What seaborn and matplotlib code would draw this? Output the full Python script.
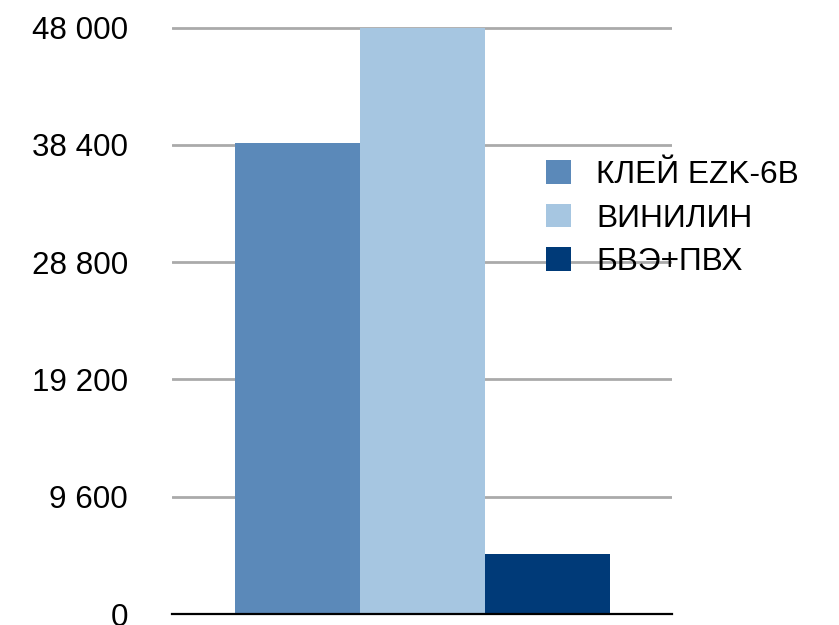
import matplotlib
matplotlib.use("Agg")
import matplotlib.pyplot as plt
import seaborn as sns
import pandas as pd

# Series names, their values and colours
series = ["КЛЕЙ EZK-6B", "ВИНИЛИН", "БВЭ+ПВХ"]
values = [38600, 48000, 4900]
colors = ["#5b89b9", "#a6c6e1", "#003a78"]

# Y-axis ticks and their labels
y_ticks = [0, 9600, 19200, 28800, 38400, 48000]
y_labels = ["0", "9 600", "19 200", "28 800", "38 400", "48 000"]

sns.set_theme(style="white")
plt.rcParams["font.family"] = ["Liberation Sans", "DejaVu Sans"]
plt.rcParams["text.color"] = "black"

W, H = 839, 625
fig = plt.figure(figsize=(W / 100, H / 100), dpi=100)

y0_px, ytop_px = 614, 27.7
px_per_unit = (y0_px - ytop_px) / 48000
y_max = 48500
ax_h = y_max * px_per_unit
ax = fig.add_axes([172 / W, 1 - y0_px / H, 500 / W, ax_h / H])

df = pd.DataFrame({"series": series, "value": values})
sns.barplot(data=df, x="series", y="value", hue="series", palette=colors,
            width=1.0, saturation=1, ax=ax, legend=True, errorbar=None,
            linewidth=0, edgecolor="none")

ax.set_xlim(-1, 3)
ax.set_ylim(0, y_max)
ax.set_xticks([])
ax.set_xlabel("")
ax.set_ylabel("")
ax.set_yticks(y_ticks)
ax.set_yticklabels(y_labels)
ax.tick_params(axis="y", length=0, pad=31.7, labelsize=22.6, labelcolor="black")

ax.yaxis.grid(True, color="#aaaaaa", linewidth=2)
ax.set_axisbelow(True)
for side in ["left", "right", "top"]:
    ax.spines[side].set_visible(False)
ax.spines["bottom"].set_color("black")
ax.spines["bottom"].set_linewidth(1.6)

sns.move_legend(ax, loc="center left", bbox_to_anchor=(546 / W, 1 - 218.5 / H),
                bbox_transform=fig.transFigure, frameon=False, title=None,
                fontsize=22.8, handlelength=0.78, handleheight=0.78,
                handletextpad=0.8, labelspacing=0.42, borderpad=0,
                borderaxespad=0, labelcolor="black")

fig.savefig("out.png", dpi=100)
